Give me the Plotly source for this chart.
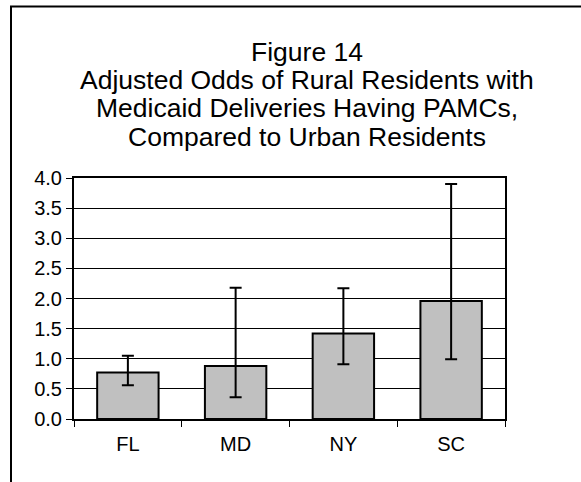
import plotly.graph_objects as go

states = ["FL", "MD", "NY", "SC"]
odds = [0.77, 0.88, 1.42, 1.96]
ci_upper = [1.05, 2.18, 2.17, 3.90]
ci_lower = [0.56, 0.36, 0.91, 0.99]
y_ticks = [0.0, 0.5, 1.0, 1.5, 2.0, 2.5, 3.0, 3.5, 4.0]
title_lines = [
    "Figure 14",
    "Adjusted Odds of Rural Residents with",
    "Medicaid Deliveries Having PAMCs,",
    "Compared to Urban Residents",
]

W, H = 581, 482
L, R, T, B = 74, 76, 178, 63
pw, ph = W - L - R, H - T - B

def px_x(x):
    return (x - L) / pw

def px_y(y):
    return (H - B - y) / ph

err_plus = [u - v for u, v in zip(ci_upper, odds)]
err_minus = [v - l for v, l in zip(odds, ci_lower)]

FONT = "Liberation Sans, Arial, sans-serif"

fig = go.Figure(
    go.Bar(
        x=states,
        y=odds,
        marker=dict(color="#C0C0C0", line=dict(color="black", width=2)),
        error_y=dict(
            type="data",
            symmetric=False,
            array=err_plus,
            arrayminus=err_minus,
            color="black",
            thickness=2,
            width=6,
        ),
        hoverinfo="skip",
    )
)

annotations = []
centers = [52, 80, 108.5, 136.5]
for line, cy in zip(title_lines, centers):
    annotations.append(
        dict(
            text=line,
            xref="paper",
            yref="paper",
            x=px_x(307),
            y=px_y(cy),
            xanchor="center",
            yanchor="middle",
            showarrow=False,
            font=dict(family=FONT, size=26.5, color="black"),
        )
    )

fig.update_layout(
    width=W,
    height=H,
    margin=dict(l=L, r=R, t=T, b=B, pad=0),
    paper_bgcolor="white",
    plot_bgcolor="white",
    showlegend=False,
    bargap=0.43,
    font=dict(family=FONT, size=20, color="black"),
    annotations=annotations,
    shapes=[
        dict(
            type="rect",
            xref="paper",
            yref="paper",
            x0=px_x(11),
            x1=px_x(700),
            y0=px_y(700),
            y1=px_y(6.5),
            line=dict(color="black", width=2),
            layer="below",
        )
    ],
)

fig.update_xaxes(
    showline=True,
    linecolor="black",
    linewidth=2,
    mirror=True,
    ticks="outside",
    tickson="boundaries",
    ticklen=6,
    tickcolor="black",
    tickwidth=1,
    showgrid=False,
    ticklabelstandoff=6,
    tickfont=dict(family=FONT, size=20),
)
fig.update_yaxes(
    range=[0, 4],
    tickvals=y_ticks,
    tickformat=".1f",
    showline=True,
    linecolor="black",
    linewidth=2,
    mirror=True,
    ticks="outside",
    ticklen=6,
    tickcolor="black",
    tickwidth=1,
    showgrid=True,
    gridcolor="black",
    gridwidth=1,
    zeroline=False,
    tickfont=dict(family=FONT, size=20),
)

fig.write_html(
    "out.html",
    config={"displayModeBar": False},
    post_script="document.body.style.margin='0';document.body.style.overflow='hidden';",
)
